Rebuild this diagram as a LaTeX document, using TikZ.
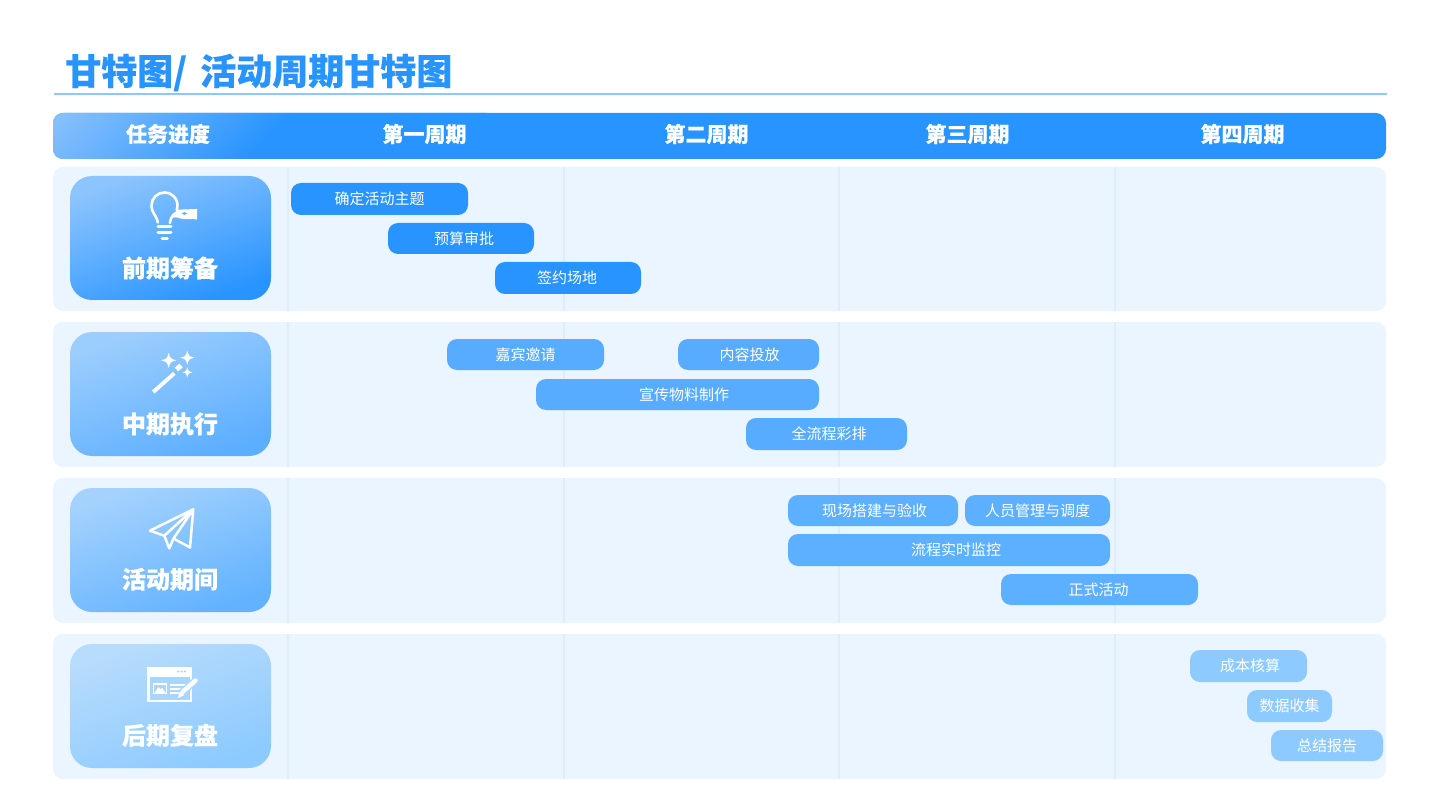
\documentclass[tikz,border=0pt]{standalone}
\usepackage{fontspec}
\setmainfont[BoldFeatures={FakeBold=0.25}]{Noto Sans CJK SC}
\definecolor{mainblue}{HTML}{2894FF}
\definecolor{headlight}{HTML}{A4CEFB}
\definecolor{rowbg}{HTML}{EAF5FF}
\definecolor{gridc}{HTML}{DDEEFB}
\definecolor{titleline}{HTML}{8CC8FF}
\definecolor{barB}{HTML}{57ACFF}
\definecolor{barC}{HTML}{5CB0FF}
\definecolor{barD}{HTML}{8CCAFF}
\definecolor{cardAt}{HTML}{8CC4FD}
\definecolor{cardAb}{HTML}{2894FF}
\definecolor{cardBt}{HTML}{9CCEFD}
\definecolor{cardBb}{HTML}{5CAEFF}
\definecolor{cardCt}{HTML}{A4D2FD}
\definecolor{cardCb}{HTML}{62B2FF}
\definecolor{cardDt}{HTML}{B8DCFC}
\definecolor{cardDb}{HTML}{8CCAFF}
\definecolor{iconbg}{HTML}{A8D6FF}
\tikzset{
  x=1pt,y=-1pt,
  ganttbar/.style={rounded corners=10pt,inner sep=0pt,outer sep=0pt,text=white,font=\fontsize{15}{15}\selectfont,align=center},
  headtext/.style={text=white,inner sep=0pt,font=\fontsize{21}{21}\selectfont\bfseries},
  cardtext/.style={text=white,inner sep=0pt,font=\fontsize{24}{24}\selectfont\bfseries},
  iconline/.style={draw=white,line width=2.6pt,line cap=round,line join=round},
}
\newcommand{\gbar}[8]{% name x0 y0 x1 y1 colour text textshift
  \node[ganttbar,fill=#6,minimum width={(#4-#2)*1pt},minimum height={(#5-#3)*1pt}] (#1) at ({(#2+#4)/2},{(#3+#5)/2}) {\raisebox{1.2pt}{\hspace*{#8pt}#7}};}
\newcommand{\rowbox}[3]{% name y0 y1
  \fill[rowbg,rounded corners=10pt] (53,#2) rectangle (1386,#3);
  \foreach \vx in {288,564,839,1115}{\draw[gridc,line width=2pt] (\vx,#2) -- (\vx,#3);}
  \coordinate (#1) at (53,#2);}
\newcommand{\card}[5]{% y0 top bottom label labely
  \path[rounded corners=22pt,top color=#2,bottom color=#3,shading angle=20] (70,#1) rectangle (271,#1+124);
  \node[cardtext] at (170,#5) {#4};}
\newcommand{\spark}[3]{% x y r
  \fill[white] (#1,#2-#3) .. controls (#1+.22*#3,#2-.22*#3) .. (#1+#3,#2) .. controls (#1+.22*#3,#2+.22*#3) .. (#1,#2+#3) .. controls (#1-.22*#3,#2+.22*#3) .. (#1-#3,#2) .. controls (#1-.22*#3,#2-.22*#3) .. cycle;}
\begin{document}
\begin{tikzpicture}
\useasboundingbox (0,0) rectangle (1440,810);
\fill[white] (0,0) rectangle (1440,810);
% title
\node[anchor=west,inner sep=0pt,text=mainblue,font=\fontsize{36}{36}\selectfont\bfseries] (title) at (65,72.5) {甘特图/ \hspace{5pt}活动周期甘特图};
\draw[titleline,line width=1.5pt] (54,94) -- (1387,94);
% header
\fill[mainblue,rounded corners=10pt] (53,113) rectangle (1386,159);
\begin{scope}
\clip[rounded corners=10pt] (53,113) rectangle (1386,159);
\shade[top color=headlight,bottom color=mainblue,middle color=mainblue,shading angle=45] (53,-81) rectangle (487,353);
\end{scope}
\node[headtext] (h0) at (168,134) {任务进度};
\node[headtext] (h1) at (424.5,134) {第一周期};
\node[headtext] (h2) at (706.5,134) {第二周期};
\node[headtext] (h3) at (967.5,134) {第三周期};
\node[headtext] (h4) at (1242.5,134) {第四周期};
% rows
\rowbox{r1}{167}{311}
\rowbox{r2}{322}{467}
\rowbox{r3}{478}{623}
\rowbox{r4}{634}{779}
% cards
\card{176}{cardAt}{cardAb}{前期筹备}{268}
\card{332}{cardBt}{cardBb}{中期执行}{424}
\card{488}{cardCt}{cardCb}{活动期间}{579.3}
\card{644}{cardDt}{cardDb}{后期复盘}{735.3}
% bars
\gbar{b1}{291}{183}{468}{215}{mainblue}{确定活动主题}{0}
\gbar{b2}{388}{223}{534}{254}{mainblue}{预算审批}{6}
\gbar{b3}{495}{262}{641}{294}{mainblue}{签约场地}{-2}
\gbar{b4}{447}{339}{604}{370}{barB}{嘉宾邀请}{0}
\gbar{b5}{678}{339}{819}{370}{barB}{内容投放}{2}
\gbar{b6}{536}{379}{819}{410}{barB}{宣传物料制作}{13}
\gbar{b7}{746}{418}{907}{450}{barB}{全流程彩排}{5}
\gbar{b8}{788}{495}{958}{526}{barC}{现场搭建与验收}{3}
\gbar{b9}{965}{495}{1110}{526}{barC}{人员管理与调度}{0}
\gbar{b10}{788}{534}{1110}{566}{barC}{流程实时监控}{14}
\gbar{b11}{1001}{574}{1198}{605}{barC}{正式活动}{-2}
\gbar{b12}{1190}{650}{1307}{682}{barD}{成本核算}{3}
\gbar{b13}{1247}{690}{1332}{722}{barD}{数据收集}{0}
\gbar{b14}{1271}{730}{1383}{761}{barD}{总结报告}{0}
% bulb icon
\draw[iconline] (157.8,222.5) .. controls (156.5,215) and (151.5,213) .. (151.5,205.5) arc[start angle=180,end angle=380,radius=13];
\draw[iconline] (169.8,223) .. controls (171,216) and (174,212.5) .. (180,212);
\fill[white,even odd rule] (176,211) -- (179,209.6) -- (197,209) -- (197,219.3) -- (183,219) .. controls (179,218.5) and (176,216) .. (172,218) -- cycle (181,213.5) .. controls (183,211.5) and (186,211.5) .. (188,213.5) .. controls (186,215.5) and (183,215.5) .. (181,213.5) -- cycle;
\draw[white,line width=3pt,line cap=round] (158,227) -- (171,227);
\draw[white,line width=3pt,line cap=round] (158,232.8) -- (171,232.8);
\draw[white,line width=2.8pt,line cap=round] (162,238.6) -- (167.5,238.6);
% wand icon
\draw[white,line width=3.8pt] (153.3,392) -- (174.3,373.3);
\draw[white,line width=5pt] (176.5,369.5) -- (181,365.5);
\spark{168.7}{360.3}{7.5}
\spark{187.3}{357.7}{7}
\spark{187.3}{372.3}{5}
% plane icon
\draw[white,line width=2.5pt,line join=round] (193.3,509.3) -- (150,530.7) -- (164.3,535.7) -- (193.3,509.3) -- (190,547.5) -- (173.5,538.5) -- (193.3,509.3);
\draw[white,line width=2.5pt,line join=round] (164.3,535.7) -- (169.3,548.3) -- (173.5,538.5);
% browser icon
\fill[white] (147.3,667.3) rectangle (192.3,701.7);
\fill[iconbg] (149.5,677) rectangle (190,699.5);
\foreach \dx in {178.3,181.7,185}{\fill[iconbg] (\dx,671.5) circle[radius=1.2];}
\draw[white,line width=1.5pt] (153.6,683.8) rectangle (166.5,693.5);
\fill[white] (154.5,693) -- (158.5,687) -- (160.5,689.5) -- (162,687.5) -- (165.5,693) -- cycle;
\fill[white] (170,684) rectangle (188,686);
\fill[white] (170,687.7) rectangle (183.5,689.7);
\fill[white] (170,691.5) rectangle (180,693.5);
\draw[iconbg,line width=7pt] (180,694) -- (195.5,680.5);
\draw[white,line width=4.5pt,line cap=round] (183,691.5) -- (195.5,680.5);
\fill[white] (178,698) -- (180,691.2) -- (184.5,695) -- cycle;
\end{tikzpicture}
\end{document}
